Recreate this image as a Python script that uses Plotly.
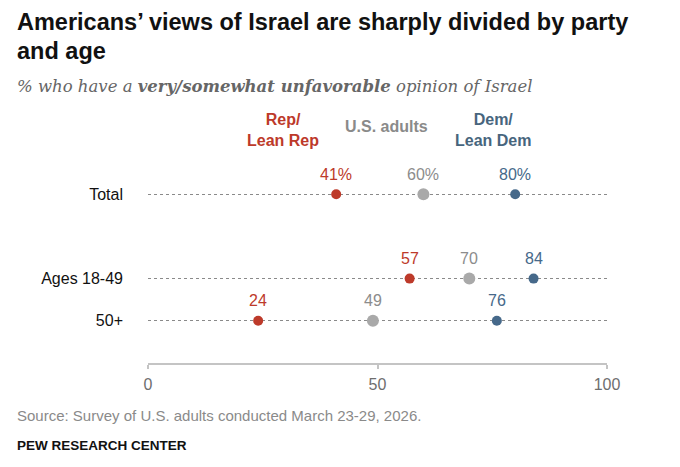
import plotly.graph_objects as go

# ---- data ----
rows = ["Total", "Ages 18-49", "50+"]
categories = ["Total", " ", "Ages 18-49", "50+"]   # blank spacer row
series_names = ["Rep/<br>Lean Rep", "U.S. adults", "Dem/<br>Lean Dem"]
rep = [41, 57, 24]
adults = [60, 70, 49]
dem = [80, 84, 76]
x_ticks = [0, 50, 100]
title_lines = ["Americans’ views of Israel are sharply divided by party", "and age"]
subtitle = "<i>% who have a <b>very/somewhat unfavorable</b> opinion of Israel</i>"
source = "Source: Survey of U.S. adults conducted March 23-29, 2026."
credit = "PEW RESEARCH CENTER"

# ---- styles ----
W, H = 680, 467
ML, MR, MT, MB = 148, 73, 152, 104
PW, PH = W - ML - MR, H - MT - MB
RED, GREY_M, GREY_T, BLUE = "#bd3a2a", "#a9a9a9", "#8c8c8c", "#46698a"
SANS = "Liberation Sans, Arial, sans-serif"


def px(x):
    return (x - ML) / PW


def py(y):
    return (H - MB - y) / PH


fig = go.Figure()

series = [(rep, RED, RED, 10), (adults, GREY_M, GREY_T, 12), (dem, BLUE, BLUE, 10)]
annotations = []
for vals, mcol, tcol, size in series:
    fig.add_trace(go.Scatter(
        x=vals, y=rows, mode="markers",
        marker=dict(color=mcol, size=size, line=dict(width=0)),
        hoverinfo="skip", showlegend=False,
    ))
    for v, r in zip(vals, rows):
        annotations.append(dict(
            x=v, y=r, xref="x", yref="y", yshift=20,
            text=f"{v}%" if r == "Total" else str(v),
            showarrow=False, xanchor="center", yanchor="middle",
            font=dict(family=SANS, size=16, color=tcol),
        ))

# series header labels
header_pos = [(282.5, 130, RED), (386, 126, "#8a8a8a"), (493, 130, "#47657d")]
for name, (hx, hy, col) in zip(series_names, header_pos):
    annotations.append(dict(
        x=px(hx), y=py(hy), xref="paper", yref="paper", text=f"<b>{name}</b>",
        showarrow=False, xanchor="center", yanchor="middle", align="center",
        font=dict(family=SANS, size=16, color=col),
    ))

# title, subtitle, source, credit
annotations.append(dict(x=px(15), y=py(22), xref="paper", yref="paper", text=f"<b>{title_lines[0]}</b>",
                        showarrow=False, xanchor="left", yanchor="middle",
                        font=dict(family=SANS, size=23.5, color="#111111")))
annotations.append(dict(x=px(15), y=py(51.5), xref="paper", yref="paper", text=f"<b>{title_lines[1]}</b>",
                        showarrow=False, xanchor="left", yanchor="middle",
                        font=dict(family=SANS, size=23.5, color="#111111")))
annotations.append(dict(x=px(15), y=py(86), xref="paper", yref="paper", text=subtitle,
                        showarrow=False, xanchor="left", yanchor="middle",
                        font=dict(family="DejaVu Serif, Georgia, serif", size=16.5, color="#666666")))
annotations.append(dict(x=px(15), y=py(415.5), xref="paper", yref="paper", text=source,
                        showarrow=False, xanchor="left", yanchor="middle",
                        font=dict(family=SANS, size=15, color="#8a8a8a")))
annotations.append(dict(x=px(15), y=py(445), xref="paper", yref="paper", text=f"<b>{credit}</b>",
                        showarrow=False, xanchor="left", yanchor="middle",
                        font=dict(family=SANS, size=13.5, color="#111111")))

fig.update_layout(
    width=W, height=H,
    margin=dict(l=ML, r=MR, t=MT, b=MB, pad=0),
    paper_bgcolor="white", plot_bgcolor="white",
    annotations=annotations,
    xaxis=dict(
        range=[x_ticks[0], x_ticks[-1]], tickvals=x_ticks,
        showline=True, linecolor="#c4c4c4", linewidth=1.5,
        ticks="outside", ticklen=4, tickcolor="#c4c4c4", tickwidth=1.5,
        showgrid=False, zeroline=False,
        tickfont=dict(family=SANS, size=16, color="#6e6e6e"),
        ticklabelstandoff=2,
    ),
    yaxis=dict(
        type="category", categoryorder="array", categoryarray=categories,
        range=[len(categories), -1],
        tickvals=[categories.index(r) for r in rows], ticktext=rows,
        showgrid=True, gridcolor="#8a8a8a", griddash="dot", gridwidth=1,
        showline=False, zeroline=False, ticks="",
        tickfont=dict(family=SANS, size=16, color="#111111"),
        ticklabelstandoff=24,
    ),
)

fig.write_html("out.html", config={"displayModeBar": False},
               post_script="document.body.style.margin='0';")
